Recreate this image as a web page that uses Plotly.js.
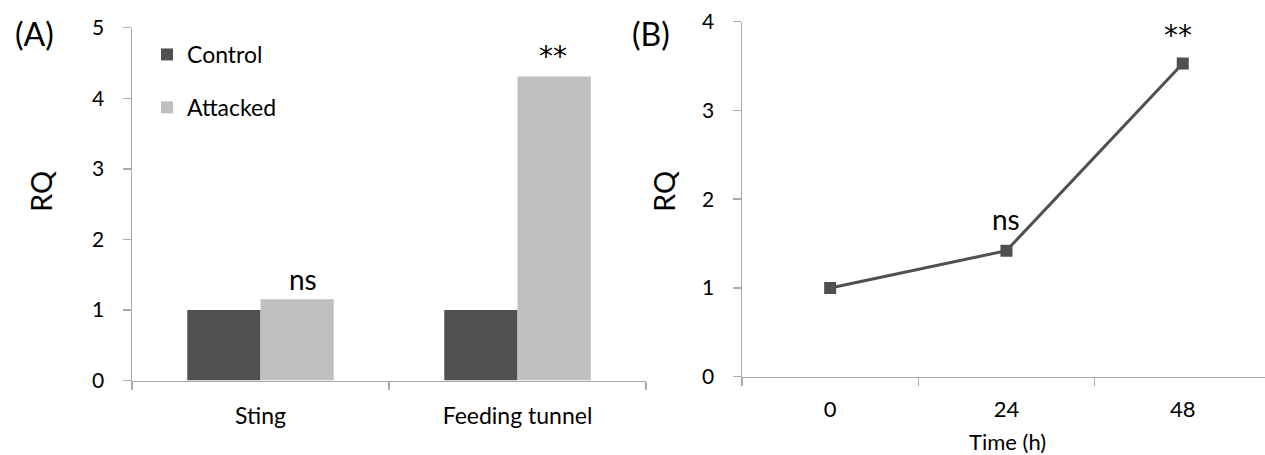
<!DOCTYPE html>
<html>
<head>
<meta charset="utf-8">
<script src="https://cdn.plot.ly/plotly-3.0.1.min.js"></script>
<style>html,body{margin:0;padding:0;background:#fff}#chart{width:1265px;height:455px}</style>
</head>
<body>
<div id="chart"></div>
<script>
// ---- data ----
const categoriesA = ['Sting', 'Feeding tunnel'];
const controlRQ = [1.0, 1.0];
const attackedRQ = [1.15, 4.31];
const sigA = ['ns', '**'];

const timeLabels = ['0', '24', '48'];
const timeRQ = [1.0, 1.42, 3.53];
const sigB = ['', 'ns', '**'];

const seriesNames = ['Control', 'Attacked'];
const panelLabels = ['(A)', '(B)'];
const yTitle = 'RQ';
const xTitleB = 'Time (h)';

// ---- style ----
const W = 1265, H = 455;
const FONT = 'Lato, "Open Sans", sans-serif';
const STAR_FONT = '"DejaVu Sans", sans-serif';
const DARK = '#505050', LIGHT = '#bfbfbf', AXIS = '#a9a9a9';
const px = v => v / W, py = v => 1 - v / H;

const traces = [
  {type: 'bar', x: categoriesA, y: controlRQ, name: seriesNames[0], marker: {color: DARK},
   xaxis: 'x', yaxis: 'y', legendgroup: 'c'},
  {type: 'bar', x: categoriesA, y: attackedRQ, name: seriesNames[1], marker: {color: LIGHT},
   xaxis: 'x', yaxis: 'y', legendgroup: 'a'},
  {type: 'scatter', mode: 'lines+markers', x: timeLabels, y: timeRQ, showlegend: false,
   line: {color: DARK, width: 3}, marker: {symbol: 'square', size: 12, color: DARK},
   xaxis: 'x2', yaxis: 'y2'}
];

const annotations = [];
function paperText(text, x, y, size, extra) {
  annotations.push(Object.assign({text: text, xref: 'paper', yref: 'paper', x: px(x), y: py(y),
    xanchor: 'center', yanchor: 'middle', showarrow: false,
    font: {size: size, family: FONT, color: '#000'}}, extra || {}));
}
paperText(panelLabels[0], 34, 34, 32);
paperText(panelLabels[1], 651, 34, 32);
paperText(yTitle, 40, 192, 29, {textangle: -90});
paperText(yTitle, 663, 192, 29, {textangle: -90});
paperText(xTitleB, 1008, 441, 22);

function sigFont(s) {
  return s.indexOf('*') >= 0 ? {size: 28, family: STAR_FONT, color: '#000'} : {size: 28, family: FONT, color: '#000'};
}
const sigShiftA = [[42, 20], [35, 20]];
categoriesA.forEach((c, i) => {
  if (!sigA[i]) return;
  annotations.push({text: sigA[i], xref: 'x', yref: 'y', x: i, y: attackedRQ[i],
    xshift: sigShiftA[i][0], yshift: sigShiftA[i][1], xanchor: 'center', yanchor: 'middle', showarrow: false,
    font: sigFont(sigA[i])});
});
const sigShiftB = [[0, 0], [0, 32], [-5, 28]];
timeLabels.forEach((t, i) => {
  if (!sigB[i]) return;
  annotations.push({text: sigB[i], xref: 'x2', yref: 'y2', x: i, y: timeRQ[i],
    xshift: sigShiftB[i][0], yshift: sigShiftB[i][1], xanchor: 'center', yanchor: 'middle', showarrow: false,
    font: sigFont(sigB[i])});
});

const baseX = {type: 'category', tickson: 'boundaries', ticks: 'outside', ticklen: 8, tickwidth: 1.5,
  tickcolor: AXIS, showline: true, linecolor: AXIS, linewidth: 1.5, showgrid: false, zeroline: false,
  fixedrange: true};
const baseY = {ticks: 'outside', ticklen: 8, tickwidth: 1.5, tickcolor: AXIS, showline: true,
  linecolor: AXIS, linewidth: 1.5, showgrid: false, zeroline: false, dtick: 1,
  tickfont: {size: 21, family: FONT, color: '#000'}, ticklabelstandoff: 14, fixedrange: true};

const layout = {
  width: W, height: H, margin: {l: 0, r: 0, t: 0, b: 0},
  paper_bgcolor: '#fff', plot_bgcolor: '#fff',
  font: {family: FONT, color: '#000'},
  barmode: 'group', bargap: 0.43, bargroupgap: 0,
  showlegend: true,
  legend: {x: px(147), y: py(33), xanchor: 'left', yanchor: 'top', bgcolor: 'rgba(0,0,0,0)',
    font: {size: 23, family: FONT, color: '#000'}, traceorder: 'grouped', tracegroupgap: 20},
  xaxis: Object.assign({}, baseX, {domain: [px(132), px(646)], range: [-0.5, 1.5], anchor: 'y',
    tickfont: {size: 23, family: FONT, color: '#000'}, ticklabelstandoff: 14}),
  yaxis: Object.assign({}, baseY, {domain: [py(380.5), py(27.7)], range: [0, 5], anchor: 'x'}),
  xaxis2: Object.assign({}, baseX, {domain: [px(742), 1], range: [-0.5, -0.5 + (W - 742) / 176.3], anchor: 'y2',
    tickfont: {size: 22, family: FONT, color: '#000'}, ticklabelstandoff: 12}),
  yaxis2: Object.assign({}, baseY, {domain: [py(376.7), py(21.7)], range: [0, 4], anchor: 'x2'}),
  annotations: annotations
};

Plotly.newPlot('chart', traces, layout, {displayModeBar: false, staticPlot: true});
</script>
</body>
</html>
